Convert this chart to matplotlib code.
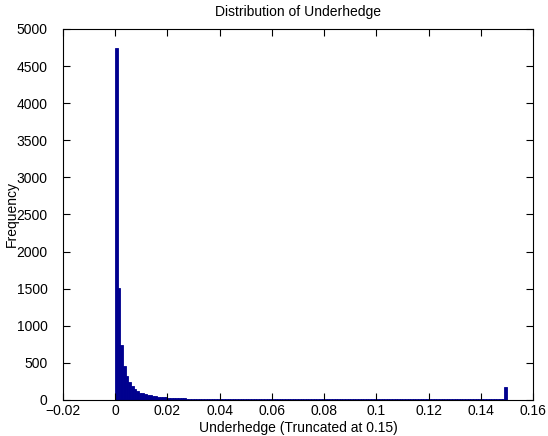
import matplotlib
matplotlib.use("Agg")
import matplotlib.pyplot as plt
import numpy as np
from matplotlib.ticker import FuncFormatter

plt.rcParams['font.family'] = ['Liberation Sans', 'DejaVu Sans']

# Histogram of underhedge, 150 bins of width 0.001 over [0, 0.15]
bin_start = 0.0
bin_width = 0.001
counts = [
    4750, 1510, 740, 460, 330, 240, 190, 150, 120, 100,
    88, 78, 68, 62, 56, 50, 46, 42, 38, 35,
    33, 30, 28, 26, 24, 22, 21, 20, 19, 18,
    18, 17, 17, 16, 16, 15, 15, 15, 14, 14,
    14, 14, 13, 13, 13, 13, 12, 12, 12, 12,
    12, 12, 11, 11, 12, 11, 11, 11, 11, 12,
    11, 11, 10, 11, 10, 11, 10, 10, 11, 10,
    10, 10, 10, 11, 10, 10, 9, 10, 10, 9,
    10, 9, 10, 9, 9, 10, 9, 9, 9, 9,
    9, 9, 9, 10, 9, 9, 9, 8, 9, 9,
    9, 8, 9, 9, 8, 9, 8, 9, 8, 9,
    8, 8, 9, 8, 8, 9, 8, 8, 8, 8,
    9, 8, 8, 8, 8, 7, 8, 8, 8, 8,
    8, 8, 7, 8, 8, 8, 7, 8, 8, 7,
    8, 8, 7, 8, 7, 8, 8, 7, 8, 180,
]
x_ticks = [-0.02, 0, 0.02, 0.04, 0.06, 0.08, 0.1, 0.12, 0.14, 0.16]
y_ticks = [0, 500, 1000, 1500, 2000, 2500, 3000, 3500, 4000, 4500, 5000]

title = "Distribution of Underhedge"
xlabel = "Underhedge (Truncated at 0.15)"
ylabel = "Frequency"

fig = plt.figure(figsize=(5.48, 4.36), dpi=100)
ax = fig.add_axes([0.115, 0.0826, 0.8576, 0.8509])

lefts = bin_start + bin_width * np.arange(len(counts))
color = '#00008f'
ax.bar(lefts, counts, width=bin_width, align='edge', color=color,
       edgecolor=color, linewidth=0.6)

ax.set_xlim(-0.02, 0.16)
ax.set_ylim(0, 5000)
ax.set_xticks(x_ticks)
ax.set_yticks(y_ticks)
ax.xaxis.set_major_formatter(FuncFormatter(lambda v, p: ('%g' % v).replace('-', '\u2212')))
ax.tick_params(direction='in', length=5, width=0.8, top=True, right=True,
               labelsize=10)
ax.tick_params(axis='y', pad=11)
ax.tick_params(axis='x', pad=3)
for s in ax.spines.values():
    s.set_linewidth(0.8)

ax.set_title(title, fontsize=10, pad=9)
ax.set_xlabel(xlabel, fontsize=10, labelpad=2)
ax.set_ylabel(ylabel, fontsize=10)
ax.yaxis.set_label_coords(-0.094, 0.5)

fig.savefig("out.png", dpi=100)
